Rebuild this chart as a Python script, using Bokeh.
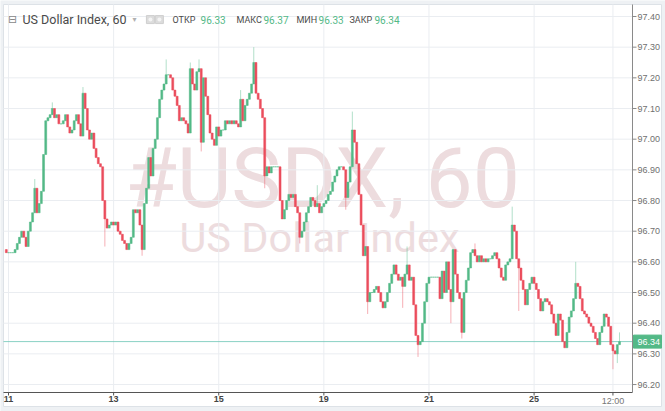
from bokeh.plotting import figure
from bokeh.models import Range1d, ColumnDataSource
from bokeh.core.properties import value
from bokeh.embed import file_html
from bokeh.resources import INLINE

# ---------------- data ----------------
first_open = 96.64
# hourly closes, bar index -1 .. 279 (index 0 = 11th 00:00)
close = [
    96.63,
    96.63, 96.63, 96.63, 96.64, 96.66, 96.68, 96.70, 96.68, 96.65, 96.70,
    96.73, 96.76, 96.84, 96.76, 96.79, 96.83, 96.95, 97.06, 97.07, 97.08,
    97.10, 97.07, 97.08, 97.05, 97.05, 97.06, 97.08, 97.04, 97.02, 97.03,
    97.06, 97.08, 97.05, 97.01, 97.15, 97.10, 97.03, 97.00, 97.02, 96.97,
    96.94, 96.92, 96.91, 96.80, 96.74, 96.71, 96.72, 96.73, 96.72, 96.73,
    96.70, 96.69, 96.67, 96.66, 96.64, 96.66, 96.68, 96.77, 96.76, 96.77,
    96.72, 96.64, 96.79, 96.84, 96.94, 96.88, 96.97, 97.00, 97.07, 97.13,
    97.16, 97.18, 97.21, 97.21, 97.20, 97.16, 97.14, 97.11, 97.06, 97.07,
    97.06, 97.05, 97.02, 97.23, 97.18, 97.16, 97.22, 97.23, 96.99, 97.20,
    97.14, 97.08, 97.02, 97.00, 96.98, 97.04, 97.01, 97.03, 97.03, 97.06,
    97.05, 97.06, 97.05, 97.06, 97.05, 97.04, 97.13, 97.06, 97.11, 97.13,
    97.15, 97.18, 97.25, 97.15, 97.13, 97.10, 97.07, 96.88, 96.91, 96.89,
    96.91, 96.91, 96.91, 96.91, 96.80, 96.74, 96.77, 96.80, 96.82, 96.81,
    96.82, 96.78, 96.76, 96.68, 96.70, 96.73, 96.76, 96.78, 96.81, 96.80,
    96.78, 96.79, 96.76, 96.78, 96.79, 96.80, 96.82, 96.83, 96.86, 96.88,
    96.90, 96.91, 96.91, 96.90, 96.81, 96.86, 96.91, 97.03, 96.99, 96.92,
    96.82, 96.72, 96.62, 96.65, 96.47, 96.50, 96.50, 96.51, 96.52, 96.50,
    96.47, 96.45, 96.47, 96.50, 96.53, 96.56, 96.59, 96.56, 96.54, 96.55,
    96.52, 96.56, 96.59, 96.54, 96.55, 96.46, 96.36, 96.33, 96.34, 96.40,
    96.47, 96.53, 96.55, 96.55, 96.55, 96.55, 96.55, 96.48, 96.57, 96.50,
    96.60, 96.51, 96.47, 96.64, 96.56, 96.50, 96.48, 96.37, 96.50, 96.54,
    96.58, 96.63, 96.64, 96.62, 96.60, 96.62, 96.60, 96.61, 96.60, 96.61,
    96.61, 96.62, 96.63, 96.61, 96.58, 96.55, 96.54, 96.59, 96.60, 96.61,
    96.72, 96.70, 96.61, 96.58, 96.54, 96.51, 96.46, 96.51, 96.53, 96.55,
    96.53, 96.51, 96.48, 96.44, 96.47, 96.48, 96.47, 96.46, 96.43, 96.40,
    96.36, 96.43, 96.41, 96.34, 96.32, 96.37, 96.42, 96.44, 96.48, 96.53,
    96.52, 96.48, 96.44, 96.43, 96.42, 96.40, 96.39, 96.37, 96.35, 96.33,
    96.37, 96.39, 96.43, 96.42, 96.39, 96.33, 96.31, 96.30, 96.33, 96.34,
]
first_index = -1

# visible wick extremes (bar index, price)
wick_high_idx = [12, 20, 34, 72, 83, 87, 106, 112, 141, 157, 182, 213, 230, 259, 279]
wick_high_val = [96.87, 97.12, 97.17, 97.26, 97.25, 97.26, 97.16, 97.30, 96.85, 97.09,
                 96.65, 96.66, 96.78, 96.60, 96.37]
wick_low_idx = [44, 61, 88, 117, 133, 154, 164, 180, 187, 202, 207, 233, 276, 278]
wick_low_val = [96.65, 96.62, 96.96, 96.84, 96.66, 96.77, 96.43, 96.45, 96.29, 96.40,
                96.35, 96.44, 96.25, 96.27]

x_tick_pos = [0, 48, 96, 144, 192, 240, 276]
x_tick_lab = ["11", "13", "15", "19", "21", "25", "12:00"]
y_ticks = [96.20, 96.30, 96.40, 96.50, 96.60, 96.70, 96.80, 96.90,
           97.00, 97.10, 97.20, 97.30, 97.40]

last_price = 96.34
hdr_open, hdr_high, hdr_low, hdr_close = "96.33", "96.37", "96.33", "96.34"
symbol_title = "US Dollar Index, 60"
watermark_1 = "#USDX, 60"
watermark_2 = "US Dollar Index"

# ---------------- derived ----------------
UP = "#53b987"
DOWN = "#eb4d5c"
n = len(close)
idx = [first_index + k for k in range(n)]
opens = [first_open] + close[:-1]
highs = [max(o, c) for o, c in zip(opens, close)]
lows = [min(o, c) for o, c in zip(opens, close)]
for i, v in zip(wick_high_idx, wick_high_val):
    highs[i - first_index] = max(highs[i - first_index], v)
for i, v in zip(wick_low_idx, wick_low_val):
    lows[i - first_index] = min(lows[i - first_index], v)
colors = [UP if c >= o else DOWN for o, c in zip(opens, close)]

src = ColumnDataSource(dict(x=idx, o=opens, c=close, h=highs, l=lows,
                            top=[max(a, b) for a, b in zip(opens, close)],
                            bot=[min(a, b) for a, b in zip(opens, close)],
                            col=colors))

# ---------------- figure (axes drawn by hand inside the frame) ----------------
W, H = 665, 411
PXX = 2.19                 # pixels per bar
PXY = 306.7                # pixels per price unit
X0 = -8 / PXX              # left canvas edge (tick "11" 8 px in)
X1 = X0 + W / PXX
Y1 = 97.40 + 16 / PXY      # top canvas edge (97.40 line 16 px down)
Y0 = Y1 - H / PXY
AX_X = X0 + 632 / PXX      # right price-axis line
AX_Y = Y1 - 392 / PXY      # bottom time-axis line

p = figure(width=W, height=H, output_backend="svg", toolbar_location=None,
           x_range=Range1d(X0, X1), y_range=Range1d(Y0, Y1),
           x_axis_location=None, y_axis_location=None,
           min_border=0)
p.background_fill_color = "#eef1f4"
p.border_fill_color = "#eef1f4"
p.outline_line_color = None
p.xgrid.visible = False
p.ygrid.visible = False

# white widget panel
p.quad(left=[X0 + 3 / PXX], right=[X0 + 661 / PXX], top=[Y1 - 4 / PXY],
       bottom=[Y1 - 406 / PXY], fill_color="white", line_color="#dde2e7", line_width=1)

# watermark
p.text(x=[143.4], y=[96.872], text=[watermark_1], text_align="center",
       text_baseline="middle", text_font=value("Roboto"), text_font_size="84px",
       text_color="#eddcde")
p.text(x=[142.0], y=[96.679], text=[watermark_2], text_align="center",
       text_baseline="middle", text_font=value("Roboto"), text_font_size="41.5px",
       text_color="#eddcde")

# grid
grid_col = "#eaedf1"
p.segment(x0=X0 + 3 / PXX, x1=AX_X, y0=y_ticks, y1=y_ticks, line_color=grid_col, line_width=1)
p.segment(x0=x_tick_pos, x1=x_tick_pos, y0=AX_Y, y1=Y1 - 4 / PXY, line_color=grid_col,
          line_width=1)

# last price line
p.segment(x0=[X0 + 3 / PXX], x1=[AX_X], y0=[last_price], y1=[last_price],
          line_color="#6cc4b4", line_width=1, line_alpha=0.8)

# candles
p.segment(x0="x", y0="h", x1="x", y1="l", source=src, line_color="col",
          line_alpha=0.45, line_width=1)
p.vbar(x="x", width=0.9, top="top", bottom="bot", source=src,
       fill_color="col", line_color="col", line_width=0.5)

# axes lines
p.segment(x0=[X0 + 3 / PXX], x1=[AX_X], y0=[AX_Y], y1=[AX_Y], line_color="#555555",
          line_width=1)
p.segment(x0=[AX_X], x1=[AX_X], y0=[AX_Y], y1=[Y1 - 4 / PXY], line_color="#8a8a8a",
          line_width=1)

# price axis ticks and labels
p.segment(x0=AX_X, x1=AX_X + 4 / PXX, y0=y_ticks, y1=y_ticks, line_color="#8a8a8a")
p.text(x=AX_X, y=y_ticks, text=["%.2f" % t for t in y_ticks], x_offset=5,
       text_baseline="middle", text_font=value("Liberation Sans"),
       text_font_size="9px", text_color="#707070")

# time axis ticks and labels
p.segment(x0=x_tick_pos, x1=x_tick_pos, y0=AX_Y, y1=AX_Y - 3 / PXY, line_color="#555555")
day_pos = [pos for pos, lab in zip(x_tick_pos, x_tick_lab) if ":" not in lab]
day_lab = [lab for lab in x_tick_lab if ":" not in lab]
hr_pos = [pos for pos, lab in zip(x_tick_pos, x_tick_lab) if ":" in lab]
hr_lab = [lab for lab in x_tick_lab if ":" in lab]
p.text(x=day_pos, y=AX_Y, text=day_lab, y_offset=3, text_align="center",
       text_baseline="top", text_font=value("Liberation Sans"), text_font_size="9px",
       text_font_style="bold", text_color="#444444")
p.text(x=hr_pos, y=AX_Y, text=hr_lab, y_offset=3, text_align="center",
       text_baseline="top", text_font=value("Liberation Sans"), text_font_size="9px",
       text_color="#777777")

# last price tag on the price axis
p.rect(x=[AX_X + 15 / PXX], y=[last_price], width=28, height=13, width_units="screen",
       height_units="screen", fill_color=UP, line_color=UP)
p.text(x=[AX_X], y=[last_price], text=["%.2f" % last_price], x_offset=5,
       text_baseline="middle", text_font=value("Liberation Sans"),
       text_font_size="9px", text_color="white")

# header legend
hy = 97.39
p.text(x=[1.83], y=[hy], text=["⊟"], text_align="center", text_baseline="middle",
       text_font=value("DejaVu Sans"), text_font_size="11px", text_color="#888888")
p.text(x=[6.39], y=[hy], text=[symbol_title], text_baseline="middle",
       text_font=value("Roboto"), text_font_size="12.5px", text_color="#4a4a4a")
p.text(x=[57.5], y=[hy], text=["▾"], text_baseline="middle", text_align="center",
       text_font=value("DejaVu Sans"), text_font_size="8px", text_color="#b0b0b0")
p.rect(x=[64.8, 68.9], y=[hy, hy], width=8, height=8, width_units="screen",
       height_units="screen", fill_color="#dcdcdc", line_color="#cfcfcf")
p.scatter(x=[64.8, 68.9], y=[hy, hy], size=4, fill_color="#f4f4f4", line_color=None)
hdr_lbl = ["ОТКР", "МАКС", "МИН", "ЗАКР"]
hdr_val = [hdr_open, hdr_high, hdr_low, hdr_close]
p.text(x=[74.9, 104.1, 131.5, 155.7], y=[hy] * 4, text=hdr_lbl, text_baseline="middle",
       text_font=value("Roboto"), text_font_size="9px", text_color="#4a4a4a")
p.text(x=[87.7, 116.4, 141.6, 167.1], y=[hy] * 4, text=hdr_val, text_baseline="middle",
       text_font=value("Roboto"), text_font_size="10px", text_color=UP)

open("out.html", "w").write(file_html(p, INLINE))
